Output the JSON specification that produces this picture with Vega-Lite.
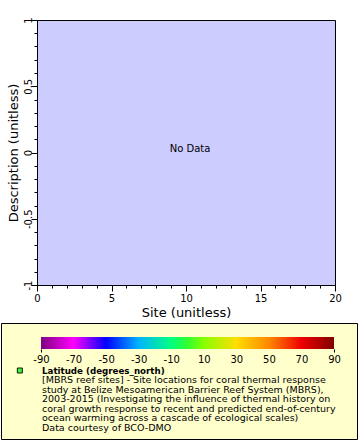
{
  "$schema": "https://vega.github.io/schema/vega-lite/v6.json",
  "background": "white",
  "padding": {"left": 1, "top": 16, "right": 0, "bottom": 0},
  "config": {
    "font": "DejaVu Sans",
    "axis": {
      "labelFont": "DejaVu Sans", "titleFont": "DejaVu Sans",
      "labelColor": "black", "titleColor": "black",
      "domainColor": "black", "tickColor": "black",
      "titleFontWeight": "normal", "grid": false,
      "labelFlush": false, "labelOverlap": false
    }
  },
  "spacing": 3,
  "vconcat": [
    {
      "width": 298,
      "height": 265,
      "view": {"fill": "#ccccff", "stroke": "black", "strokeWidth": 1},
      "data": {"values": [{"site": 10, "description": 0, "message": "No Data"}]},
      "layer": [
        {
          "mark": {"type": "text", "fontSize": 10, "color": "black", "dx": 4, "dy": -4},
          "encoding": {
            "x": {
              "field": "site", "type": "quantitative",
              "scale": {"domain": [0, 20], "nice": false, "zero": false},
              "axis": {
                "values": [0, 5, 10, 15, 20], "tickSize": 6, "labelFontSize": 10,
                "labelPadding": 2, "labelExpr": "'' + datum.value",
                "title": "Site (unitless)", "titleFontSize": 13, "titlePadding": 3
              }
            },
            "y": {
              "field": "description", "type": "quantitative",
              "scale": {"domain": [-1, 1], "nice": false, "zero": false},
              "axis": {
                "values": [-1, -0.5, 0, 0.5, 1], "tickSize": 6, "labelFontSize": 10,
                "labelAngle": 270, "labelAlign": "center", "labelBaseline": "middle",
                "labelPadding": 3, "labelExpr": "'' + datum.value",
                "title": "Description (unitless)", "titleFontSize": 13, "titlePadding": 2.5
              }
            },
            "text": {"field": "message"}
          }
        },
        {
          "mark": {"type": "point", "opacity": 0},
          "encoding": {
            "x": {
              "field": "site", "type": "quantitative",
              "axis": {
                "orient": "bottom",
                "values": [0,1,2,3,4,5,6,7,8,9,10,11,12,13,14,15,16,17,18,19,20],
                "tickSize": 3, "labels": false, "domain": false, "title": null
              }
            },
            "y": {
              "field": "description", "type": "quantitative",
              "axis": {
                "orient": "left",
                "values": [-1,-0.9,-0.8,-0.7,-0.6,-0.5,-0.4,-0.3,-0.2,-0.1,0,0.1,0.2,0.3,0.4,0.5,0.6,0.7,0.8,0.9,1],
                "tickSize": 3, "labels": false, "domain": false, "title": null
              }
            }
          }
        }
      ],
      "resolve": {"axis": {"x": "independent", "y": "independent"}}
    },
    {
      "width": 298,
      "height": 116,
      "view": {"fill": null, "stroke": null},
      "layer": [
        {
          "data": {"values": [{"panel": "legend"}]},
          "mark": {"type": "rect", "fill": "#ffffcc", "stroke": "black", "strokeWidth": 1},
          "encoding": {
            "x": {"datum": 0, "type": "quantitative", "scale": {"domain": [0, 1], "range": [-35.5, 320.5]}, "axis": null},
            "x2": {"datum": 1},
            "y": {"datum": 0, "type": "quantitative", "scale": {"domain": [0, 1], "range": [0.5, 116.5]}, "axis": null},
            "y2": {"datum": 1}
          }
        },
        {
          "data": {"values": [{"lo": -90, "hi": 90}]},
          "mark": {
            "type": "rect",
            "fill": {
              "gradient": "linear", "x1": 0, "y1": 0, "x2": 1, "y2": 0,
              "stops": [
                {"offset": 0, "color": "#800080"},
                {"offset": 0.111, "color": "#ff00ff"},
                {"offset": 0.222, "color": "#0000ff"},
                {"offset": 0.333, "color": "#00b4ff"},
                {"offset": 0.444, "color": "#00ff80"},
                {"offset": 0.5, "color": "#30ff30"},
                {"offset": 0.556, "color": "#88ff00"},
                {"offset": 0.667, "color": "#ffdd00"},
                {"offset": 0.778, "color": "#ff8800"},
                {"offset": 0.889, "color": "#ee0000"},
                {"offset": 1, "color": "#800000"}
              ]
            }
          },
          "encoding": {
            "x": {
              "field": "lo", "type": "quantitative",
              "scale": {"domain": [-90, 90], "range": [4, 297], "nice": false, "zero": false},
              "axis": {
                "orient": "bottom", "offset": -90, "zindex": 2,
                "values": [-90, -70, -50, -30, -10, 10, 30, 50, 70, 90],
                "domain": false, "ticks": false, "labelPadding": 5,
                "labelFontSize": 10, "title": null, "labelExpr": "'' + datum.value"
              }
            },
            "x2": {"field": "hi"},
            "y": {"datum": 0, "type": "quantitative", "scale": {"domain": [0, 1], "range": [14, 26]}, "axis": null},
            "y2": {"datum": 1}
          }
        },
        {
          "data": {"values": [{"line": 0, "text": "Latitude (degrees_north)"}]},
          "mark": {"type": "text", "align": "left", "baseline": "middle", "fontSize": 8.7, "fontWeight": "bold", "dx": 1, "color": "black"},
          "encoding": {
            "x": {
              "datum": -90, "type": "quantitative",
              "scale": {"domain": [-90, 90], "range": [4, 297], "nice": false, "zero": false},
              "axis": {
                "orient": "bottom", "offset": -90, "zindex": 2, "values": [-90, 90],
                "labels": false, "domain": false, "tickSize": 3, "title": null
              }
            },
            "y": {"field": "line", "type": "quantitative", "scale": {"domain": [0, 6], "range": [47.5, 104.5]}, "axis": null},
            "text": {"field": "text"}
          }
        },
        {
          "data": {"values": [
            {"line": 1, "text": "[MBRS reef sites] - Site locations for coral thermal response"},
            {"line": 2, "text": "study at Belize Mesoamerican Barrier Reef System (MBRS),"},
            {"line": 3, "text": "2003-2015 (Investigating the influence of thermal history on"},
            {"line": 4, "text": "coral growth response to recent and predicted end-of-century"},
            {"line": 5, "text": "ocean warming across a cascade of ecological scales)"},
            {"line": 6, "text": "Data courtesy of BCO-DMO"}
          ]},
          "mark": {"type": "text", "align": "left", "baseline": "middle", "fontSize": 9.5, "dx": 1, "color": "black"},
          "encoding": {
            "x": {"datum": -90, "type": "quantitative", "scale": {"domain": [-90, 90], "range": [4, 297], "nice": false, "zero": false}, "axis": null},
            "y": {"field": "line", "type": "quantitative", "scale": {"domain": [0, 6], "range": [47.5, 104.5]}, "axis": null},
            "text": {"field": "text"}
          }
        },
        {
          "data": {"values": [{"line": 0, "series": "Latitude (degrees_north)"}]},
          "mark": {"type": "point", "shape": "square", "size": 25, "filled": true, "fill": "#44ee44", "stroke": "#002200", "strokeWidth": 1, "opacity": 1},
          "encoding": {
            "x": {"datum": -103, "type": "quantitative", "scale": {"domain": [-90, 90], "range": [4, 297], "nice": false, "zero": false}, "axis": null},
            "y": {"field": "line", "type": "quantitative", "scale": {"domain": [0, 6], "range": [47.5, 104.5]}, "axis": null}
          }
        }
      ],
      "resolve": {"scale": {"x": "independent", "y": "independent"}, "axis": {"x": "independent"}}
    }
  ]
}
